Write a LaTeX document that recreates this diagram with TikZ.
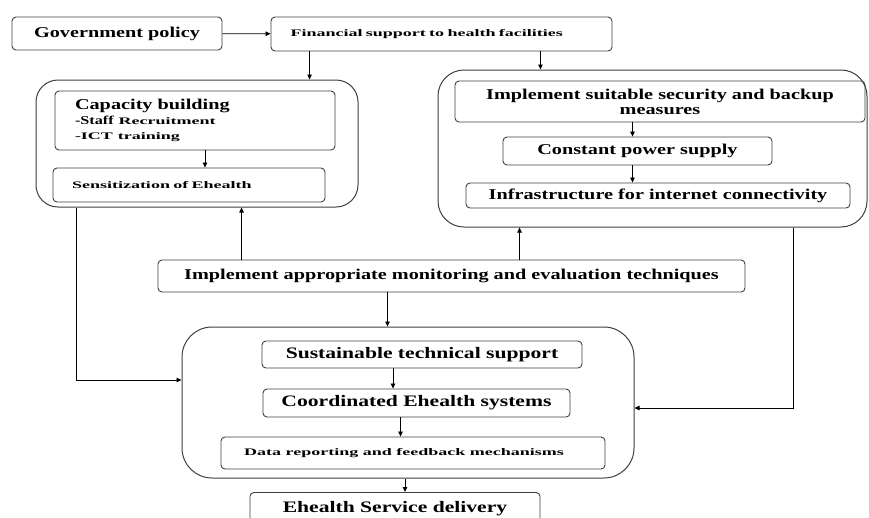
\documentclass[tikz,border=0pt]{standalone}
\usepackage{fontspec}
\setmainfont{Liberation Serif}
\newfontfamily\widefont[FakeStretch=1.35]{Liberation Serif}
\newfontfamily\widerfont[FakeStretch=1.8]{Liberation Serif}
\usepackage{tikz}
\usetikzlibrary{arrows.meta}

\begin{document}
\begin{tikzpicture}[
			x=1pt, y=-1pt,
			box/.style={rectangle, rounded corners=4pt, draw=black!75, line width=0.9pt,
				inner sep=0pt, align=center, font=\widefont\bfseries\fontsize{15}{18}\selectfont},
			smallbox/.style={box, font=\widerfont\bfseries\fontsize{10}{12}\selectfont},
			group/.style={rectangle, rounded corners=22pt, draw=black!75, line width=1pt, inner sep=0pt},
			arrow/.style={-{Triangle[length=5pt,width=4.5pt]}, line width=0.8pt, black}
			]
			\useasboundingbox[fill=white] (0,0) rectangle (869,517);
			\clip (0,0) rectangle (869,517);
			% top row
			\node[box, minimum width=210pt, minimum height=33pt] (gov) at (117,33.5) {Government policy};
			\node[smallbox, minimum width=341pt, minimum height=34pt, text width=302pt, align=left] (fin) at (441.5,34) {Financial support to health facilities};
			% left group
			\node[group, minimum width=322pt, minimum height=127pt] (leftgrp) at (197,143.5) {};
			\node[box, minimum width=280pt, minimum height=59pt, text width=240pt, align=left] (cap) at (195,120.5)
				{Capacity building\\[-3pt]
				{\fontsize{12}{13}\selectfont -Staff} {\widerfont\fontsize{10}{12}\selectfont Recruitment}\\[-3pt]
				{\widerfont\fontsize{10}{12}\selectfont -ICT training}};
			\node[smallbox, minimum width=272pt, minimum height=34pt, text width=234pt, align=left] (sens) at (189,185) {Sensitization of Ehealth};
			% right group
			\node[group, rounded corners=26pt, minimum width=429pt, minimum height=157pt] (rightgrp) at (652.5,148.5) {};
			\node[box, minimum width=410pt, minimum height=41pt] (sec) at (660,101.5) {Implement suitable security and backup\\[-3pt] measures};
			\node[box, minimum width=269pt, minimum height=28pt] (pow) at (637.5,151) {Constant power supply};
			\node[box, minimum width=384pt, minimum height=25pt] (inf) at (658,195.5) {Infrastructure for internet connectivity};
			% middle
			\node[box, minimum width=587pt, minimum height=32pt] (mon) at (451.5,276) {Implement appropriate monitoring and evaluation techniques};
			% bottom group
			\node[group, rounded corners=30pt, minimum width=452pt, minimum height=151pt] (botgrp) at (408,402.5) {};
			\node[box, font=\widefont\bfseries\fontsize{16}{18}\selectfont, minimum width=320pt, minimum height=27pt] (sus) at (422,354.5) {Sustainable technical support};
			\node[box, font=\widefont\bfseries\fontsize{16}{18}\selectfont, minimum width=307pt, minimum height=28pt] (coo) at (416.5,403) {Coordinated Ehealth systems};
			\node[smallbox, minimum width=384pt, minimum height=32pt] (dat) at (413,453) {\hspace*{-18pt}Data reporting and feedback mechanisms};
			\node[box, font=\widefont\bfseries\fontsize{16}{18}\selectfont, minimum width=290pt, minimum height=33pt, anchor=north] (del) at (395,492) {\raisebox{-3pt}{Ehealth Service delivery}};
			% connectors
			\draw[arrow] (gov) -- (fin);
			\draw[arrow] ([xshift=39pt]fin.south west) -- ([xshift=39pt]fin.south west |- leftgrp.north);
			\draw[arrow] ([xshift=-72pt]fin.south east) -- ([xshift=-72pt]fin.south east |- rightgrp.north);
			\draw[arrow] ([xshift=10pt]cap.south) -- ([xshift=10pt]cap.south |- sens.north);
			\draw[arrow] ([xshift=-5pt]pow.north |- sec.south) -- ([xshift=-5pt]pow.north);
			\draw[arrow] ([xshift=-5pt]pow.south) -- ([xshift=-5pt]pow.south |- inf.north);
			\draw[arrow] ([xshift=84pt]mon.north west) -- ([xshift=84pt]mon.north west |- leftgrp.south);
			\draw[arrow] ([xshift=362pt]mon.north west) -- ([xshift=362pt]mon.north west |- rightgrp.south);
			\draw[arrow] ([xshift=-64pt]mon.south) -- ([xshift=-64pt]mon.south |- botgrp.north);
			\draw[arrow] ([xshift=-29pt]sus.south) -- ([xshift=-29pt]sus.south |- coo.north);
			\draw[arrow] ([xshift=-16pt]coo.south) -- ([xshift=-16pt]coo.south |- dat.north);
			\draw[arrow] ([xshift=10pt]del.north |- botgrp.south) -- ([xshift=10pt]del.north);
			\draw[arrow] ([xshift=41pt]leftgrp.south west) |- ([yshift=22.5pt]botgrp.west);
			\draw[arrow] ([xshift=-74pt]rightgrp.south east) |- ([yshift=-5.5pt]botgrp.east);
		\end{tikzpicture}
\end{document}
